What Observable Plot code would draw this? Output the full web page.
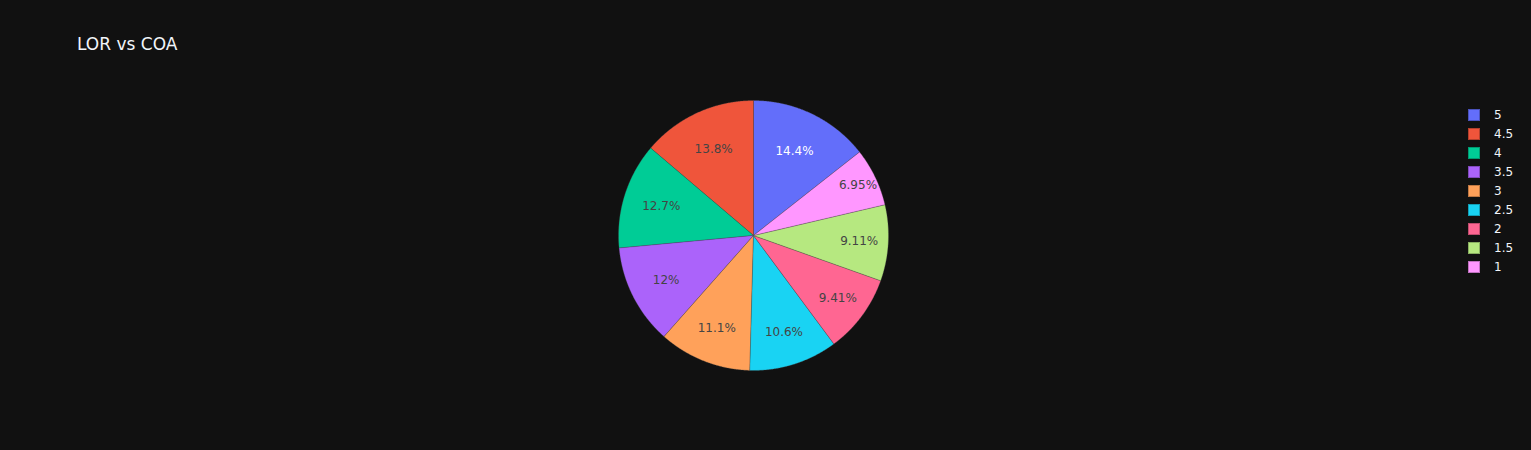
<!DOCTYPE html>
<html>
<head>
<meta charset="utf-8">
<script src="https://cdn.jsdelivr.net/npm/d3@7"></script>
<script src="https://cdn.jsdelivr.net/npm/@observablehq/plot@0.6"></script>
<style>
  html, body { margin: 0; padding: 0; background: #111111; }
  #wrap { position: relative; width: 1531px; height: 450px; background: #111111;
          font-family: "DejaVu Sans", verdana, arial, sans-serif; overflow: hidden; }
  #wrap svg { position: absolute; left: 0; top: 0; }
  #title { position: absolute; left: 77px; top: 35.6px; font-size: 17px; line-height: 17px;
           color: #f2f5fa; white-space: nowrap; }
  #legend { position: absolute; left: 1468px; top: 105.5px; }
  .item { height: 19px; display: flex; align-items: center; font-size: 12px; color: #f2f5fa; }
  .sw { width: 12px; height: 12px; margin-right: 14px; box-sizing: border-box; }
</style>
</head>
<body>
<div id="wrap">
  <div id="title">LOR vs COA</div>
  <div id="legend"></div>
</div>
<script>
// ---- data ----
const labels = ["5", "4.5", "4", "3.5", "3", "2.5", "2", "1.5", "1"];
const shares = [14.4, 13.8, 12.7, 12, 11.1, 10.6, 9.41, 9.11, 6.95];
const colors = ["#636efa", "#EF553B", "#00cc96", "#ab63fa", "#FFA15A", "#19d3f3", "#FF6692", "#B6E880", "#FF97FF"];

// ---- geometry derived from the shares ----
const total = d3.sum(shares);
let cur = shares[0] / total * 360; // first slice ends at 12 o'clock, slices run counterclockwise
const polys = [];
const textData = [];
const rad = a => a * Math.PI / 180;
labels.forEach((lab, i) => {
  const sweep = shares[i] / total * 360;
  const a0 = cur, a1 = cur - sweep;
  cur = a1;
  polys.push({key: lab, x: 0, y: 0});
  const n = Math.max(2, Math.ceil(sweep / 0.25));
  for (let k = 0; k <= n; k++) {
    const a = a0 + (a1 - a0) * k / n;
    polys.push({key: lab, x: Math.sin(rad(a)), y: Math.cos(rad(a))});
  }
  polys.push({key: lab, x: 0, y: 0});
  const mid = (a0 + a1) / 2;
  const r = 0.544 + 7.87 / sweep;
  const c = d3.rgb(colors[i]);
  const light = (c.r * 299 + c.g * 587 + c.b * 114) / 1000 >= 128;
  textData.push({key: lab, x: r * Math.sin(rad(mid)), y: r * Math.cos(rad(mid)),
                 text: `${+shares[i].toPrecision(3)}%`, light});
});

const font = '"DejaVu Sans", verdana, arial, sans-serif';
const chart = Plot.plot({
  width: 1531,
  height: 450,
  margin: 0,
  style: {background: "transparent", overflow: "visible"},
  x: {domain: [-1, 1], range: [618, 888], axis: null},
  y: {domain: [-1, 1], range: [370, 100], axis: null},
  color: {domain: labels, range: colors},
  marks: [
    Plot.line(polys, {x: "x", y: "y", z: "key", fill: "key", stroke: "#444", strokeWidth: 0.3}),
    Plot.text(textData.filter(d => !d.light), {x: "x", y: "y", text: "text", fill: "#ffffff", fontSize: 12, fontFamily: font}),
    Plot.text(textData.filter(d => d.light), {x: "x", y: "y", text: "text", fill: "#444444", fontSize: 12, fontFamily: font})
  ]
});
document.getElementById("wrap").insertBefore(chart, document.getElementById("title"));

// ---- legend ----
const leg = document.getElementById("legend");
labels.forEach((lab, i) => {
  const item = document.createElement("div");
  item.className = "item";
  const sw = document.createElement("div");
  sw.className = "sw";
  sw.style.background = colors[i];
  sw.style.border = "0.5px solid rgba(0,0,0,0.25)";
  const t = document.createElement("span");
  t.textContent = lab;
  item.appendChild(sw);
  item.appendChild(t);
  leg.appendChild(item);
});
</script>
</body>
</html>
